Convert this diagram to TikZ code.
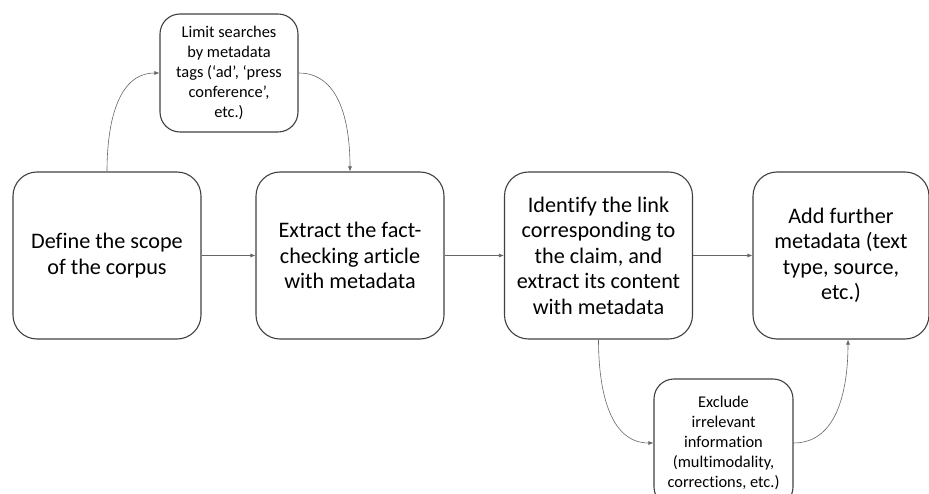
\documentclass[tikz,border=0pt]{standalone}
\usepackage{fontspec}
\setmainfont[Ligatures=NoCommon]{Carlito}
\usepackage{tikz}
\usetikzlibrary{arrows.meta}

\begin{document}
\begin{tikzpicture}[x=1pt,y=1pt,
  bigbox/.style={draw=black!75, line width=1.1pt, rounded corners=24pt, minimum width=188pt, minimum height=167pt, align=center, font=\fontsize{22.2}{25.5}\selectfont},
  smallbox/.style={draw=black!75, line width=1.1pt, rounded corners=20pt, minimum width=138pt, minimum height=118pt, align=center, font=\fontsize{16.4}{20}\selectfont},
  link/.style={draw=black!60, line width=0.6pt, -{Latex[length=5pt,width=4pt]}}]
\useasboundingbox (0,0) rectangle (929,493);
\node[bigbox] (Scope) at (107,237.5) {Define the scope\\of the corpus};
\node[bigbox] (Extract) at (350,237.5) {Extract the fact-\\checking article\\with metadata};
\node[bigbox] (Identify) at (598.5,237.5) {Identify the link\\corresponding to\\the claim, and\\extract its content\\with metadata};
\node[bigbox, minimum width=176pt] (Further) at (841,237.5) {Add further\\metadata (text\\type, source,\\etc.)};
\node[smallbox] (Limit) at (229,420) {Limit searches\\by metadata\\tags (‘ad’, ‘press\\conference’,\\etc.)};
\node[smallbox, minimum width=139pt, minimum height=128pt] (Exclude) at (723.5,50) {Exclude\\irrelevant\\information\\(multimodality,\\corrections, etc.)};
\draw[link] (Scope) -- (Extract);
\draw[link] (Extract) -- (Identify);
\draw[link] (Identify) -- (Further);
\draw[link] (Scope.north) to[out=90,in=180] (Limit.west);
\draw[link] (Limit.east) to[out=0,in=90] (Extract.north);
\draw[link] (Identify.south) to[out=270,in=180] (Exclude.west);
\draw[link] (Exclude.east) to[out=0,in=270] ([xshift=7pt]Further.south);
\end{tikzpicture}
\end{document}
